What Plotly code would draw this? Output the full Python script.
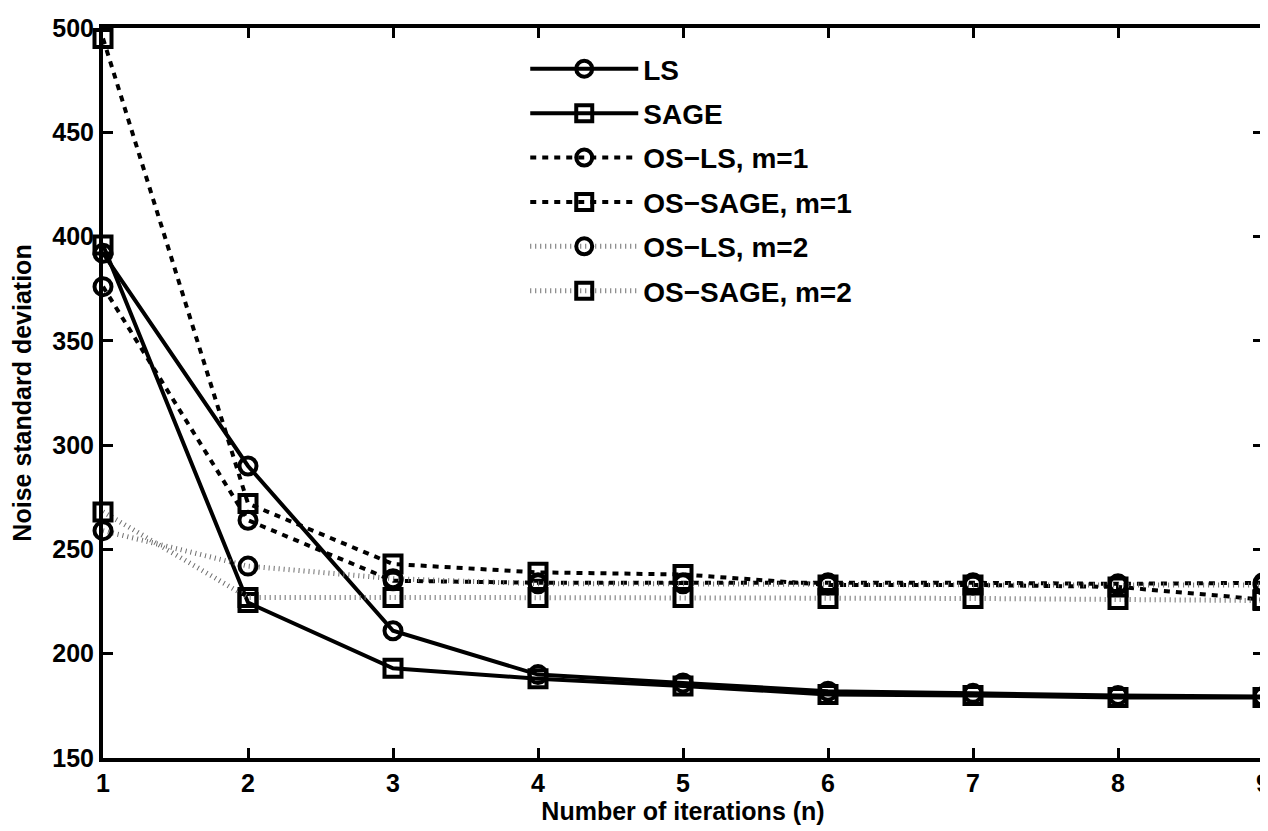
import plotly.graph_objects as go

iterations = [1, 2, 3, 4, 5, 6, 7, 8, 9]
ls = [392, 290, 211, 190, 186, 182, 181, 180, 179.5]
sage = [396, 224.5, 193, 188, 184.5, 180.5, 180, 179, 179]
os_ls_m1 = [376, 264, 235, 234, 234, 234, 234, 233.5, 234]
os_sage_m1 = [495, 272, 243, 239, 238, 233, 233, 232, 226]
os_ls_m2 = [259, 242, 236, 233.5, 233.5, 233, 233, 233, 233]
os_sage_m2 = [268, 227, 227, 227, 227, 226.5, 226.5, 226, 225.5]

x_ticks = [1, 2, 3, 4, 5, 6, 7, 8, 9]
y_ticks = [150, 200, 250, 300, 350, 400, 450, 500]

FONT = "Liberation Sans, Arial, sans-serif"
FS = 25
LFS = 28

series = [
    ("LS", ls, "circle-open", dict(color="black", width=4, dash="solid")),
    ("SAGE", sage, "square-open", dict(color="black", width=4, dash="solid")),
    ("OS\u2212LS, m=1", os_ls_m1, "circle-open", dict(color="black", width=4, dash="6px,6px")),
    ("OS\u2212SAGE, m=1", os_sage_m1, "square-open", dict(color="black", width=4, dash="6px,6px")),
    ("OS\u2212LS, m=2", os_ls_m2, "circle-open", dict(color="#6e6e6e", width=5, dash="1px,4px")),
    ("OS\u2212SAGE, m=2", os_sage_m2, "square-open", dict(color="#6e6e6e", width=5, dash="1px,4px")),
]

fig = go.Figure()
for i, (name, vals, sym, line) in enumerate(series):
    fig.add_trace(go.Scatter(
        x=iterations, y=vals, name=name, mode="lines+markers",
        line=line, legendgroup=f"g{i}",
        marker=dict(symbol=sym, size=17, color="black", line=dict(color="black", width=4)),
        cliponaxis=False,
    ))

axis_common = dict(
    showline=True, linecolor="black", linewidth=4, mirror="ticks",
    ticks="inside", ticklen=10, tickwidth=3, tickcolor="black",
    showgrid=False, zeroline=False,
    tickfont=dict(family=FONT, size=FS, color="black", weight="bold"),
)

fig.update_layout(
    width=1268, height=831,
    margin=dict(l=95, r=6, t=17, b=81),
    paper_bgcolor="white", plot_bgcolor="white",
    xaxis=dict(range=[1, 9], tickvals=x_ticks, ticktext=[str(t) for t in x_ticks],
               title=dict(text="Number of iterations (n)", standoff=4,
                          font=dict(family=FONT, size=FS, color="black", weight="bold")),
               **axis_common),
    yaxis=dict(range=[150, 500], tickvals=y_ticks, ticktext=[str(t) for t in y_ticks],
               title=dict(text="Noise standard deviation", standoff=18,
                          font=dict(family=FONT, size=FS, color="black", weight="bold")),
               **axis_common),
    legend=dict(x=0.364, y=0.978, xanchor="left", yanchor="top",
                bgcolor="rgba(0,0,0,0)", traceorder="grouped", tracegroupgap=5,
                itemwidth=108,
                font=dict(family=FONT, size=LFS, color="black", weight="bold")),
    showlegend=True,
)

fig.write_html("out.html")
